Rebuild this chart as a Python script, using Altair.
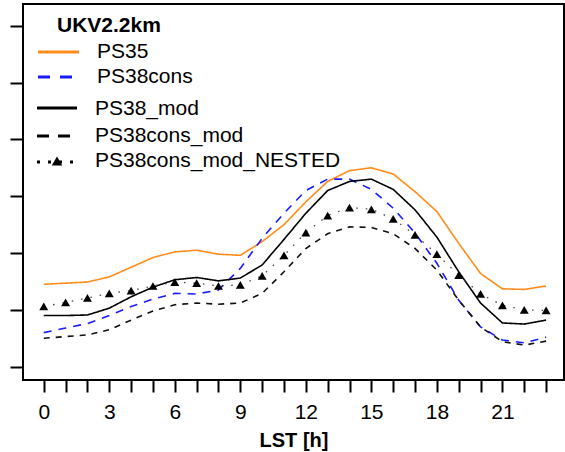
import altair as alt
import pandas as pd

# Diurnal cycle (local solar time) for the UKV 2.2 km runs
hours = list(range(24))
ps35 = [1.45, 1.47, 1.49, 1.58, 1.75, 1.92, 2.02, 2.05, 1.98, 1.96, 2.20, 2.50,
        2.90, 3.26, 3.45, 3.50, 3.39, 3.08, 2.73, 2.17, 1.64, 1.37, 1.36, 1.42]
ps38cons = [0.60, 0.68, 0.76, 0.90, 1.06, 1.19, 1.29, 1.28, 1.35, 1.73, 2.26, 2.70,
            3.10, 3.30, 3.30, 3.12, 2.79, 2.35, 1.82, 1.17, 0.70, 0.47, 0.42, 0.52]
ps38_mod = [0.90, 0.90, 0.91, 1.03, 1.23, 1.40, 1.53, 1.57, 1.51, 1.56, 1.79, 2.24,
            2.70, 3.10, 3.26, 3.30, 3.12, 2.76, 2.28, 1.67, 1.12, 0.77, 0.75, 0.82]
ps38cons_mod = [0.50, 0.53, 0.56, 0.65, 0.82, 0.98, 1.09, 1.12, 1.10, 1.12, 1.29, 1.67,
                2.08, 2.34, 2.46, 2.45, 2.34, 2.08, 1.70, 1.17, 0.70, 0.44, 0.38, 0.45]
ps38cons_mod_nested = [1.06, 1.13, 1.21, 1.29, 1.34, 1.42, 1.49, 1.47, 1.42, 1.44, 1.60, 1.96,
                       2.36, 2.66, 2.80, 2.77, 2.60, 2.32, 1.98, 1.61, 1.28, 1.08, 1.00, 0.99]
hour_labels = [0, 3, 6, 9, 12, 15, 18, 21]

series_names = ["PS35", "PS38cons", "PS38_mod", "PS38cons_mod"]
series_colors = ["#ff8c1a", "#1a1aff", "#000000", "#111111"]
series_dashes = [[1, 0], [8, 7], [1, 0], [6, 6]]

rows = []
for name, vals in zip(series_names, [ps35, ps38cons, ps38_mod, ps38cons_mod]):
    for h, v in zip(hours, vals):
        rows.append({"series": name, "hour": h, "value": v})
lines_df = pd.DataFrame(rows)
nested_df = pd.DataFrame({"hour": hours, "value": ps38cons_mod_nested})
one_row = pd.DataFrame({"k": [0]})

FONT = "Liberation Sans"

x_scale = alt.Scale(domain=[-0.95, 23.82], nice=False, zero=False)
y_scale = alt.Scale(domain=[-0.234, 6.382], nice=False, zero=False)

label_test = "indexof([" + ",".join(str(h) for h in hour_labels) + "], datum.value) >= 0"
x_axis = alt.Axis(
    values=hours, labelExpr=f"{label_test} ? datum.label : ''",
    labelOverlap=False, labelFlush=False, labelBound=False,
    tickSize=12, tickWidth=2, tickColor="black", domain=False, grid=False,
    labelFont=FONT, labelFontSize=21, labelFontWeight=400, labelColor="black",
    labelPadding=9,
    title="LST [h]", titleFont=FONT, titleFontSize=20, titleFontWeight="bold",
    titleColor="black", titlePadding=8,
)
y_axis = alt.Axis(
    values=[0, 1, 2, 3, 4, 5, 6], tickSize=13, tickWidth=2, tickColor="black",
    labels=False, domain=False, grid=False, title=None,
)

X = alt.X("hour:Q", scale=x_scale, axis=x_axis)
Y = alt.Y("value:Q", scale=y_scale, axis=y_axis)

lines = alt.Chart(lines_df).mark_line(strokeWidth=1.6).encode(
    x=X, y=Y,
    color=alt.Color("series:N", scale=alt.Scale(domain=series_names, range=series_colors), legend=None),
    strokeDash=alt.StrokeDash("series:N", scale=alt.Scale(domain=series_names, range=series_dashes), legend=None),
    detail="series:N",
)

nested_line = alt.Chart(nested_df).mark_line(
    color="#444444", strokeWidth=1.3, strokeDash=[1.5, 8]
).encode(x=X, y=Y)

nested_pts = alt.Chart(nested_df).mark_point(
    shape="triangle-up", filled=True, color="black", opacity=1, size=80
).encode(x=X, y=Y)

# Hand-drawn legend in the upper-left corner of the panel
def rule(x1, x2, y, color, dash=None):
    kw = dict(color=color, strokeWidth=3)
    if dash:
        kw["strokeDash"] = dash
    return alt.Chart(one_row).mark_rule(**kw).encode(
        x=alt.value(x1), x2=alt.value(x2), y=alt.value(y))

def label(x, y, text, bold=False):
    return alt.Chart(one_row).mark_text(
        align="left", baseline="middle", font=FONT, fontSize=21,
        fontWeight=700 if bold else 400, color="black"
    ).encode(x=alt.value(x), y=alt.value(y), text=alt.value(text))

legend = [
    label(34, 22, "UKV2.2km", bold=True),
    rule(15, 56, 48, "#ff8c1a"), label(74, 48, "PS35"),
    rule(15, 50, 73, "#1a1aff", [12, 10]), label(74, 73, "PS38cons"),
    rule(14, 54, 104, "black"), label(72, 105, "PS38_mod"),
    rule(14, 48, 132, "black", [12, 9]), label(72, 132, "PS38cons_mod"),
    rule(14, 50, 158, "black", [3, 8]), label(72, 157, "PS38cons_mod_NESTED"),
    alt.Chart(one_row).mark_point(shape="triangle-up", filled=True, color="black",
                                  opacity=1, size=110).encode(x=alt.value(34), y=alt.value(157)),
]

chart = alt.layer(lines, nested_line, nested_pts, *legend).properties(
    width=541, height=376,
    padding={"left": 23, "top": 4, "right": 1, "bottom": 72},
    autosize=alt.AutoSizeParams(type="none"),
    background="white",
).configure_view(stroke="black", strokeWidth=2).configure_axis(labelOverlap=False)

chart.save("out.html", embed_options={"renderer": "svg", "actions": False})
